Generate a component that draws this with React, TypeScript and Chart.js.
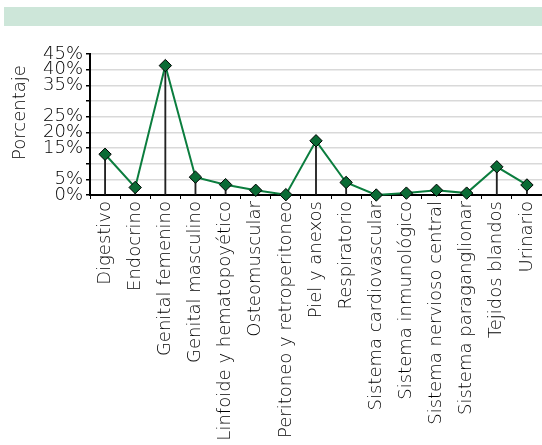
import React, { useEffect, useRef } from "react";
import { Chart, registerables } from "chart.js";

Chart.register(...registerables);

const categories = [
  "Digestivo",
  "Endocrino",
  "Genital femenino",
  "Genital masculino",
  "Linfoide y hematopoyético",
  "Osteomuscular",
  "Peritoneo y retroperitoneo",
  "Piel y anexos",
  "Respiratorio",
  "Sistema cardiovascular",
  "Sistema inmunológico",
  "Sistema nervioso central",
  "Sistema paraganglionar",
  "Tejidos blandos",
  "Urinario",
];

const porcentaje = [13.0, 2.4, 41.3, 5.7, 3.3, 1.5, 0.1, 17.3, 4.0, 0.0, 0.6, 1.5, 0.6, 9.0, 3.2];

const hiddenYTicks = [30, 10];
const yTitle = "Porcentaje";

const FONT = "'DejaVu Sans', sans-serif";
const TEXT = "#000";

const yTitlePlugin = {
  id: "yTitlePlugin",
  afterDraw(chart: any) {
    const { ctx, chartArea } = chart;
    ctx.save();
    ctx.font = `200 18px ${FONT}`;
    ctx.fillStyle = TEXT;
    ctx.textAlign = "center";
    ctx.textBaseline = "middle";
    ctx.translate(20, (chartArea.top + chartArea.bottom) / 2 - 12);
    ctx.rotate(-Math.PI / 2);
    ctx.fillText(yTitle, 0, 0);
    ctx.restore();
  },
};

export default function App() {
  const ref = useRef<HTMLCanvasElement | null>(null);

  useEffect(() => {
    document.body.style.margin = "0";
    const ctx = ref.current;
    if (!ctx) return;
    const chart = new Chart(ctx, {
      data: {
        labels: categories,
        datasets: [
          {
            type: "line",
            data: porcentaje,
            borderColor: "#0b7d3e",
            borderWidth: 2,
            backgroundColor: "#0a6b35",
            pointStyle: "rectRot",
            pointRadius: 6.2,
            pointBorderColor: "#000",
            pointBorderWidth: 1,
            tension: 0,
            clip: false as any,
            order: 1,
          },
          {
            type: "bar",
            data: porcentaje,
            backgroundColor: "#222",
            barThickness: 1.2,
            order: 2,
          },
        ],
      },
      options: {
        responsive: true,
        maintainAspectRatio: false,
        animation: false,
        layout: { autoPadding: false, padding: { top: 54, right: 0, bottom: 0, left: 0 } },
        plugins: { legend: { display: false }, tooltip: { enabled: false } },
        scales: {
          x: {
            offset: true,
            afterFit: (s: any) => {
              s.height = 250;
              s.paddingRight = 0;
              s.paddingLeft = 0;
            },
            border: { color: "#000", width: 2 },
            grid: {
              display: true,
              drawOnChartArea: false,
              drawTicks: true,
              tickLength: 4,
              color: "#000",
              offset: true,
            },
            ticks: {
              autoSkip: false,
              minRotation: 90,
              maxRotation: 90,
              color: TEXT,
              padding: 2,
              font: { family: FONT, size: 18, weight: 200 as any },
            },
          },
          y: {
            min: 0,
            max: 45,
            afterFit: (s: any) => {
              s.width = 90;
            },
            border: { color: "#000", width: 2 },
            grid: {
              color: "#d9d9d9",
              lineWidth: 1.5,
              drawTicks: true,
              tickLength: 4,
              tickColor: "#000",
            },
            ticks: {
              stepSize: 5,
              autoSkip: false,
              color: TEXT,
              padding: 3,
              font: { family: FONT, size: 18, weight: 200 as any },
              callback: (v: any) => (hiddenYTicks.includes(Number(v)) ? "" : v + "%"),
            },
          },
        },
      },
      plugins: [yTitlePlugin],
    });
    return () => chart.destroy();
  }, []);

  return (
    <div style={{ position: "relative", width: 542, height: 445, background: "#fff" }}>
      <div
        style={{
          position: "absolute",
          left: 4,
          top: 7,
          width: 538,
          height: 19,
          background: "#cde6d9",
        }}
      />
      <div style={{ position: "absolute", left: 0, top: 0, width: 542, height: 445 }}>
        <canvas ref={ref} />
      </div>
    </div>
  );
}
